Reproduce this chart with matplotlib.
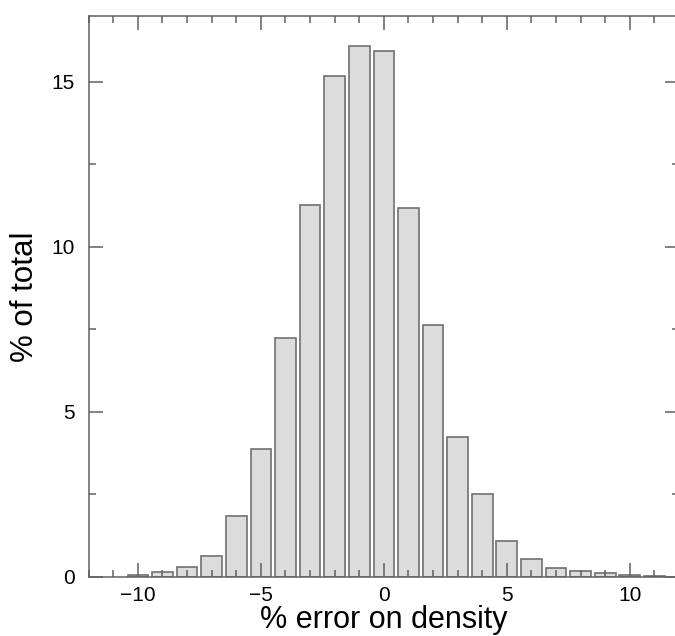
import numpy as np
import matplotlib.pyplot as plt
from matplotlib.ticker import MultipleLocator

plt.rcParams['font.family'] = ['Liberation Sans', 'DejaVu Sans']

# histogram of % error on density, bins centred on integers
bin_centres = [-10, -9, -8, -7, -6, -5, -4, -3, -2, -1, 0,
               1, 2, 3, 4, 5, 6, 7, 8, 9, 10, 11]
pct_total = [0.05, 0.15, 0.28, 0.63, 1.85, 3.88, 7.23, 11.28, 15.17, 16.08, 15.93,
             11.18, 7.64, 4.23, 2.51, 1.07, 0.53, 0.25, 0.17, 0.10, 0.05, 0.03]

fig = plt.figure(figsize=(6.75, 6.36), dpi=100)
ax = fig.add_axes([0.1314, 0.0932, 0.8745, 0.8816])

ax.bar(bin_centres, pct_total, width=0.84, color='#dcdcdc',
       edgecolor='#707070', linewidth=1.2)

ax.set_xlim(-12, 12)
ax.set_ylim(0, 17)
ax.xaxis.set_major_locator(MultipleLocator(5))
ax.xaxis.set_minor_locator(MultipleLocator(1))
ax.yaxis.set_major_locator(MultipleLocator(5))
ax.yaxis.set_minor_locator(MultipleLocator(2.5))
ax.tick_params(which='both', direction='in', top=True, right=True,
               color='#606060', width=1.1)
ax.tick_params(which='major', length=10, labelsize=15)
ax.tick_params(which='minor', length=5)
ax.tick_params(axis='x', pad=7)
ax.tick_params(axis='y', pad=10)
for s in ax.spines.values():
    s.set_color('#606060')
    s.set_linewidth(1.1)

ax.set_xlabel('% error on density', fontsize=22, labelpad=0)
ax.set_ylabel('% of total', fontsize=22.5, labelpad=8)

fig.savefig('out.png', dpi=100)
